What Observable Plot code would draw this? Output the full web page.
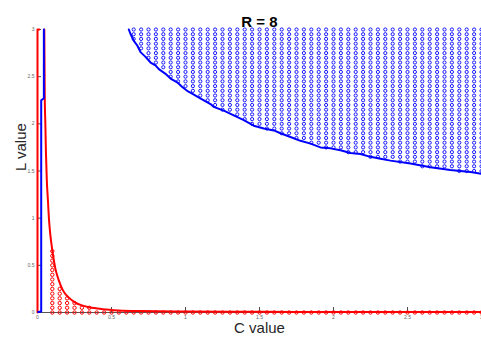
<!DOCTYPE html>
<html><head><meta charset="utf-8">
<script src="https://cdn.jsdelivr.net/npm/d3@7"></script>
<script src="https://cdn.jsdelivr.net/npm/@observablehq/plot@0.6"></script>
<style>body{margin:0;background:#fff;overflow:hidden}</style>
</head><body><div id="chart"></div>
<script>
const title = "R = 8";
const xLabel = "C value";
const yLabel = "L value";
const xTicks = [0, 0.5, 1, 1.5, 2, 2.5, 3];
const yTicks = [0, 0.5, 1, 1.5, 2, 2.5, 3];

// upper (blue) boundary line
const blueBoundaryC = [0.617,0.628,0.651,0.674,0.696,0.730,0.764,0.797,0.820,0.865,0.899,0.944,0.978,1.011,1.045,1.100,1.169,1.190,1.259,1.326,1.394,1.461,1.529,1.597,1.642,1.709,1.777,1.845,1.912,1.980,2.047,2.115,2.182,2.250,2.318,2.385,2.520,2.655,2.790,2.926,3.0];
const blueBoundaryL = [3.0,2.955,2.88,2.83,2.76,2.71,2.65,2.62,2.58,2.53,2.48,2.44,2.39,2.35,2.32,2.27,2.21,2.18,2.14,2.09,2.04,1.98,1.95,1.93,1.90,1.86,1.82,1.79,1.75,1.74,1.72,1.69,1.68,1.65,1.63,1.61,1.58,1.54,1.51,1.49,1.47];

// left blue line
const blueLeftC = [0.005, 0.025, 0.025, 0.043, 0.043];
const blueLeftL = [0.005, 0.01, 2.25, 2.27, 3.0];

// red lines
const redLeftC = [0.0, 0.0, 0.012];
const redLeftL = [0.0, 3.0, 3.0];
const redCurveC = [0.046,0.049,0.053,0.057,0.063,0.070,0.077,0.085,0.100,0.120,0.144,0.170,0.210,0.250,0.300,0.350,0.440,0.550,0.700,1.000,1.500,2.000,3.000];
const redCurveL = [3.0,2.3,2.0,1.7,1.4,1.2,1.0,0.85,0.66,0.47,0.34,0.24,0.16,0.11,0.075,0.055,0.035,0.022,0.015,0.01,0.007,0.006,0.005];

// blue circle columns: C position and lowest circle (circles run up to L = 3)
const blueColC = [0.65,0.70,0.75,0.80,0.85,0.90,0.95,1.00,1.05,1.10,1.15,1.20,1.25,1.30,1.35,1.40,1.45,1.50,1.55,1.60,1.65,1.70,1.75,1.80,1.85,1.90,1.95,2.00,2.05,2.10,2.15,2.20,2.25,2.30,2.35,2.40,2.45,2.50,2.55,2.60,2.65,2.70,2.75,2.80,2.85,2.90,2.95,3.00];
const blueColMin = [2.90,2.80,2.70,2.65,2.60,2.50,2.45,2.40,2.35,2.30,2.25,2.20,2.15,2.15,2.10,2.05,2.00,2.00,1.95,1.95,1.90,1.90,1.85,1.85,1.80,1.80,1.75,1.75,1.75,1.70,1.70,1.70,1.65,1.65,1.65,1.65,1.60,1.60,1.60,1.55,1.55,1.55,1.55,1.55,1.50,1.50,1.50,1.50];

// red circle columns: C position and highest circle (circles run down to L = 0)
const redColC = [0.10,0.15,0.20,0.25,0.30,0.35,0.40,0.45,0.50,0.55,0.60,0.65,0.70,0.75,0.80,0.85,0.90,0.95,1.00,1.05,1.10,1.15,1.20,1.25,1.30,1.35,1.40,1.45,1.50,1.55,1.60,1.65,1.70,1.75,1.80,1.85,1.90,1.95,2.00,2.05,2.10,2.15,2.20,2.25,2.30,2.35,2.40,2.45,2.50,2.55,2.60,2.65,2.70,2.75,2.80,2.85,2.90,2.95,3.00];
const redColMax = [0.65,0.25,0.15,0.10,0.05,0.05,0,0,0,0,0,0,0,0,0,0,0,0,0,0,0,0,0,0,0,0,0,0,0,0,0,0,0,0,0,0,0,0,0,0,0,0,0,0,0,0,0,0,0,0,0,0,0,0,0,0,0,0,0];

const STEP = 0.05;
const toPts = (cs, ls) => cs.map((c, i) => ({c, l: ls[i]}));
const bluePts = blueColC.flatMap((c, i) => {
  const n = Math.round((3 - blueColMin[i]) / STEP);
  return d3.range(n + 1).map(k => ({c, l: +(blueColMin[i] + k * STEP).toFixed(2)}));
});
const redPts = redColC.flatMap((c, i) => {
  const n = Math.round(redColMax[i] / STEP);
  return d3.range(n + 1).map(k => ({c, l: +(k * STEP).toFixed(2)}));
});

const RED = "#ff0000", BLUE = "#0000ff";
const plot = Plot.plot({
  width: 481, height: 343,
  marginLeft: 37, marginRight: 0, marginTop: 29, marginBottom: 31,
  x: {domain: [0, 3]},
  y: {domain: [0, 3]},
  style: {fontFamily: "'Liberation Sans', Arial, sans-serif", background: "#fff", overflow: "visible"},
  marks: [
    Plot.ruleY([0], {stroke: "#555", strokeWidth: 1}),
    Plot.ruleX([0], {stroke: "#555", strokeWidth: 1}),
    Plot.ruleX(xTicks, {x: d => d, insetTop: 278, stroke: "#222", strokeWidth: 0.8}),
    Plot.ruleY(yTicks, {y: d => d, insetRight: 440, stroke: "#222", strokeWidth: 0.8}),
    Plot.axisX({ticks: xTicks, tickSize: 0, tickPadding: 3, fontSize: 5, fill: "#666", tickFormat: d => String(d), label: null}),
    Plot.axisY({ticks: yTicks, tickSize: 0, tickPadding: 3, fontSize: 5, fill: "#666", tickFormat: d => String(d), label: null}),
    Plot.dot(redPts, {x: "c", y: "l", r: 1.7, stroke: RED, strokeWidth: 1}),
    Plot.line(toPts(redLeftC, redLeftL), {x: "c", y: "l", stroke: RED, strokeWidth: 2}),
    Plot.line(toPts(redCurveC, redCurveL), {x: "c", y: "l", stroke: RED, strokeWidth: 2, curve: "monotone-x"}),
    Plot.dot(bluePts, {x: "c", y: "l", r: 1.6, stroke: BLUE, strokeWidth: 0.9}),
    Plot.line(toPts(blueLeftC, blueLeftL), {x: "c", y: "l", stroke: BLUE, strokeWidth: 2}),
    Plot.line(toPts(blueBoundaryC, blueBoundaryL), {x: "c", y: "l", stroke: BLUE, strokeWidth: 2}),
    Plot.text([title], {text: d => d, frameAnchor: "top", dy: -13, fontSize: 15, fontWeight: "bold", fill: "#000"}),
    Plot.text([xLabel], {text: d => d, frameAnchor: "bottom", dy: 20, fontSize: 15, fill: "#262626"}),
    Plot.text([yLabel], {text: d => d, frameAnchor: "left", dx: -16, rotate: -90, fontSize: 15, fill: "#262626"})
  ]
});
document.getElementById("chart").append(plot);
</script>
</body></html>
